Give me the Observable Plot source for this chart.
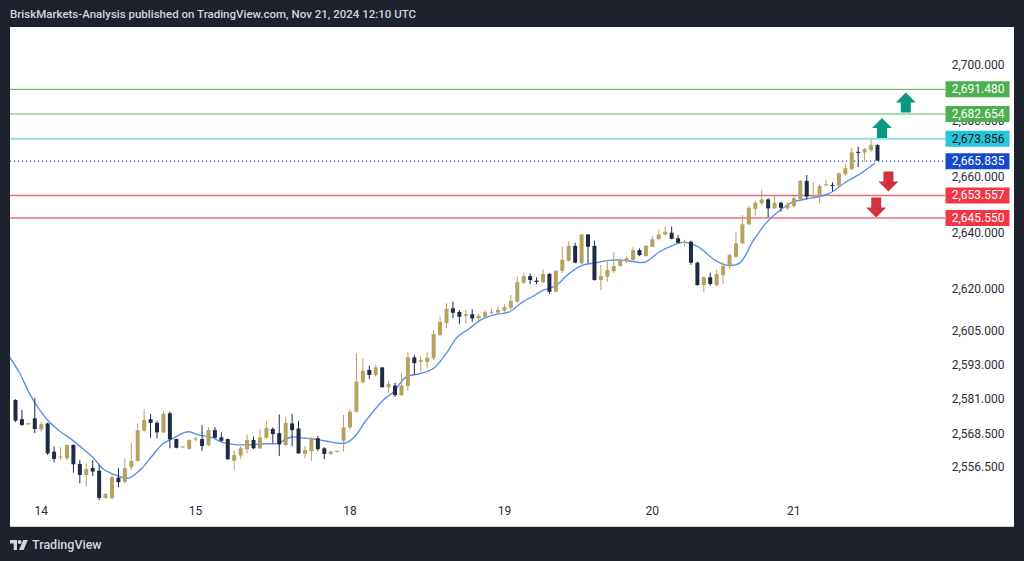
<!DOCTYPE html>
<html><head><meta charset="utf-8">
<script src="https://cdn.jsdelivr.net/npm/d3@7"></script>
<script src="https://cdn.jsdelivr.net/npm/@observablehq/plot@0.6"></script>
<style>
html,body{margin:0;padding:0;background:#1e222d;width:1024px;height:561px;overflow:hidden;font-family:Roboto,"Open Sans",sans-serif}
#hdr{position:absolute;left:10px;top:7px;color:#d1d4dc;font-size:11.5px;font-weight:500;white-space:nowrap}
#chart{position:absolute;left:10px;top:27px;width:1004px;height:499px;background:#fff;border-bottom:1px solid #c9ccd3}
#ftr{position:absolute;left:10px;top:537px;color:#d1d4dc;font-size:12.5px;font-weight:500;display:flex;align-items:center;gap:4px}
</style></head><body>
<div id="hdr">BriskMarkets-Analysis published on TradingView.com, Nov 21, 2024 12:10 UTC</div>
<div id="chart"></div>
<div id="ftr"><svg width="18" height="12" viewBox="0 0 18 12"><path d="M0 1h7v10h-3.3v-6.6h-3.7z" fill="#d1d4dc"/><circle cx="9.6" cy="3" r="2" fill="#d1d4dc"/><path d="M13.2 1h4.6l-4.2 10h-4.6z" fill="#d1d4dc"/></svg><span>TradingView</span></div>
<script>
// Hourly candles, index 0..134
const opens = [2580.4,2573.5,2571.7,2573.8,2569.9,2572.0,2561.9,2559.8,2559.5,2564.3,2557.5,2553.6,2556.1,2555.1,2545.4,2545.3,2552.6,2551.2,2556.3,2558.6,2569.4,2573.5,2572.2,2568.8,2575.6,2566.4,2563.4,2562.9,2566.2,2566.4,2564.2,2569.6,2567.0,2566.4,2558.7,2560.5,2562.8,2566.1,2563.1,2566.9,2570.0,2568.5,2564.3,2572.0,2570.2,2561.1,2562.1,2566.7,2563.1,2561.1,2561.8,2565.8,2570.6,2576.2,2586.7,2591.1,2589.3,2592.0,2584.9,2585.5,2582.1,2585.4,2595.6,2594.0,2593.9,2595.3,2603.6,2607.8,2613.1,2611.8,2610.4,2611.0,2609.5,2610.1,2611.5,2611.6,2612.3,2613.3,2615.5,2622.3,2624.6,2623.0,2622.4,2625.4,2619.0,2626.5,2630.1,2635.4,2629.2,2639.5,2635.4,2623.2,2624.4,2626.4,2628.2,2629.8,2630.4,2633.9,2631.8,2635.1,2637.9,2639.5,2640.1,2638.1,2636.4,2636.9,2629.4,2621.4,2624.2,2621.4,2625.0,2628.3,2631.5,2636.3,2643.1,2648.6,2650.6,2652.0,2648.8,2650.8,2648.8,2649.6,2652.1,2658.6,2653.0,2653.3,2657.0,2657.2,2656.9,2661.0,2662.8,2669.0,2668.8,2669.6,2671.4];
const highs = [2580.6,2576.8,2572.1,2581.0,2572.6,2572.3,2563.7,2563.5,2564.6,2564.5,2558.9,2557.7,2558.9,2557.1,2547.1,2553.6,2556.0,2559.5,2565.1,2572.0,2577.0,2575.4,2572.9,2576.4,2576.2,2566.6,2563.8,2566.4,2567.3,2571.4,2570.6,2570.6,2568.8,2566.6,2562.5,2563.9,2568.1,2567.3,2569.9,2572.9,2570.6,2575.2,2574.4,2575.4,2572.9,2563.9,2567.0,2567.5,2563.5,2562.3,2562.2,2575.0,2577.0,2597.0,2595.2,2592.6,2592.9,2592.1,2587.3,2586.5,2589.9,2597.4,2596.4,2596.1,2597.3,2605.4,2610.1,2614.9,2615.5,2612.5,2612.5,2612.8,2611.3,2612.5,2612.9,2613.8,2614.6,2617.9,2624.4,2625.8,2625.6,2624.1,2627.0,2625.6,2626.8,2635.1,2636.9,2636.5,2639.6,2639.6,2637.3,2628.6,2630.4,2633.1,2631.0,2631.8,2634.9,2634.5,2635.7,2638.9,2641.3,2642.3,2642.3,2639.3,2637.5,2637.3,2629.8,2624.6,2625.8,2626.8,2629.5,2632.5,2640.5,2646.4,2649.8,2651.5,2655.4,2652.4,2653.3,2651.2,2651.0,2653.3,2658.9,2660.7,2658.3,2657.4,2658.9,2658.1,2661.7,2664.6,2670.5,2670.8,2670.3,2673.6,2671.7];
const lows = [2572.5,2571.2,2571.4,2568.5,2569.0,2560.7,2558.0,2558.9,2558.9,2554.4,2550.6,2549.4,2553.2,2544.6,2545.0,2544.9,2549.2,2550.6,2555.4,2558.3,2569.0,2566.9,2566.7,2568.5,2563.1,2563.1,2563.2,2562.6,2565.5,2562.2,2563.9,2566.7,2565.5,2559.0,2555.4,2559.2,2561.3,2562.8,2562.8,2566.4,2564.9,2560.4,2563.9,2563.9,2561.2,2559.5,2558.7,2562.2,2559.2,2560.7,2561.6,2561.9,2569.9,2575.8,2586.3,2587.8,2588.7,2584.8,2582.8,2581.5,2581.8,2583.7,2589.3,2590.5,2591.7,2594.6,2603.0,2606.0,2609.5,2607.5,2607.7,2608.3,2608.9,2609.8,2611.0,2611.0,2611.0,2612.8,2615.1,2621.7,2621.7,2621.7,2622.0,2618.2,2618.9,2625.8,2629.8,2629.2,2628.8,2629.2,2623.0,2619.6,2622.6,2625.6,2627.9,2629.3,2630.1,2631.8,2631.5,2634.9,2637.3,2638.9,2637.8,2636.3,2635.1,2628.6,2621.2,2619.0,2621.2,2620.8,2621.7,2627.4,2631.2,2636.0,2642.9,2646.2,2649.8,2645.6,2648.6,2647.6,2648.2,2649.0,2651.8,2652.1,2652.6,2650.6,2656.8,2654.8,2656.5,2660.5,2662.5,2663.5,2665.5,2669.0,2665.8];
const closes = [2573.0,2571.4,2572.1,2570.0,2571.7,2561.3,2559.3,2560.2,2564.3,2557.4,2553.6,2555.7,2554.8,2545.4,2546.8,2552.8,2551.0,2556.0,2558.6,2569.6,2573.2,2572.2,2568.8,2575.4,2566.3,2563.3,2563.8,2566.1,2566.6,2563.9,2569.6,2566.9,2565.8,2559.2,2560.7,2563.1,2566.1,2563.1,2566.9,2570.3,2568.2,2564.5,2572.2,2569.6,2561.3,2562.5,2566.9,2562.8,2561.1,2561.9,2562.2,2570.6,2576.2,2586.9,2590.8,2589.3,2592.0,2584.9,2586.1,2582.1,2585.5,2595.6,2593.5,2594.6,2595.5,2603.9,2608.3,2612.9,2611.5,2610.1,2611.0,2609.5,2610.4,2611.7,2611.9,2612.5,2613.5,2615.7,2622.4,2624.6,2623.2,2622.5,2625.4,2619.0,2626.5,2630.4,2635.4,2629.4,2639.5,2635.1,2623.2,2624.6,2626.8,2628.2,2630.4,2631.0,2633.9,2632.1,2635.4,2637.8,2639.5,2640.5,2637.9,2636.5,2636.8,2629.4,2621.4,2624.2,2621.8,2625.3,2628.2,2632.1,2636.3,2643.1,2649.0,2650.8,2652.0,2648.8,2650.8,2649.0,2650.2,2652.4,2658.6,2653.0,2653.4,2656.8,2657.4,2656.8,2661.3,2663.1,2668.8,2668.6,2670.0,2671.4,2665.835];

// Moving average, read at sample positions (candle index)
const maIndex = [-0.9,0.7,2.2,3.8,5.3,6.9,8.9,10.5,12.0,13.6,15.7,17.5,19.3,21.3,22.9,24.4,26.0,27.0,28.4,30.5,32.0,34.1,36.7,38.8,40.8,42.9,45.0,47.0,49.1,51.2,52.7,54.3,57.1,58.7,60.7,62.8,64.9,66.9,68.7,70.5,72.6,74.7,76.7,78.8,80.4,81.9,84.0,86.0,88.1,90.2,92.2,94.8,96.4,97.9,100.0,102.1,104.1,106.2,108.8,110.7,112.6,114.6,116.7,118.8,120.8,123.9,126.4,129.1,131.3,133.5];
const maValue = [2595.8,2589.9,2582.7,2576.8,2572.6,2569.4,2566.1,2563.1,2560.1,2556.0,2553.6,2552.6,2555.4,2560.7,2564.9,2566.7,2568.7,2569.2,2568.1,2567.2,2565.5,2564.6,2564.6,2564.9,2565.1,2567.3,2566.9,2566.4,2565.5,2565.1,2567.3,2572.6,2580.4,2583.3,2588.7,2589.9,2591.7,2597.0,2603.0,2606.0,2609.5,2611.1,2611.9,2615.5,2617.5,2619.6,2621.4,2625.6,2628.6,2629.5,2630.4,2630.4,2629.8,2629.8,2633.3,2635.7,2636.9,2635.1,2630.4,2628.6,2629.5,2637.1,2643.8,2648.2,2651.2,2652.7,2654.2,2658.4,2661.3,2665.0];

// Horizontal levels
const levelValues = [2691.480, 2682.654, 2673.856, 2665.835, 2653.557, 2645.550];
const levelLineColors = ["#4caf50", "#8fd18f", "#8ee0ea", "#2946c9", "#f06a74", "#e0303c"];
const levelLineWidths = [1, 1.5, 2, 1.2, 1.5, 1];
const levelDash = ["none", "none", "none", "1.2,2.8", "none", "none"];
const labelBg = ["#4caf50", "#4caf50", "#26c6da", "#1848cc", "#f23645", "#f23645"];
const labelFg = ["#ffffff", "#ffffff", "#131722", "#ffffff", "#ffffff", "#ffffff"];

// Price axis ticks (TradingView scale)
const yTicks = [2700, 2680, 2660, 2640, 2620, 2605, 2593, 2581, 2568.5, 2556.5];
// Day labels
const dayIndex = [4, 28, 52, 76, 99, 121];
const dayLabels = ["14", "15", "18", "19", "20", "21"];

// Arrow annotations
const upArrowIndex = [138.4, 134.7];
const upArrowPrice = [2686.8, 2677.7];
const downArrowIndex = [135.7, 133.8];
const downArrowPrice = [2658.6, 2649.3];

const candles = opens.map((o, i) => ({i, o, h: highs[i], l: lows[i], c: closes[i]}));
const ma = maIndex.map((i, k) => ({i, v: maValue[k]}));
const levels = levelValues.map((v, k) => ({v, lc: levelLineColors[k], lw: levelLineWidths[k], dash: levelDash[k], bg: labelBg[k], fg: labelFg[k]}));
const ups = upArrowIndex.map((i, k) => ({i, v: upArrowPrice[k]}));
const downs = downArrowIndex.map((i, k) => ({i, v: downArrowPrice[k]}));

const GOLD = "#b3a35e", NAVY = "#1f2a45";
const col = d => d.c >= d.o ? GOLD : NAVY;
const fmt = d3.format(",.3f");

const boxSym = {draw(ctx) { ctx.moveTo(-32, -8); ctx.lineTo(32, -8); ctx.lineTo(32, 8); ctx.lineTo(-32, 8); ctx.closePath(); }};
const upSym = {draw(ctx) { ctx.moveTo(0, -10); ctx.lineTo(10, 0); ctx.lineTo(5, 0); ctx.lineTo(5, 10); ctx.lineTo(-5, 10); ctx.lineTo(-5, 0); ctx.lineTo(-10, 0); ctx.closePath(); }};
const downSym = {draw(ctx) { ctx.moveTo(0, 10); ctx.lineTo(10, 0); ctx.lineTo(5, 0); ctx.lineTo(5, -10); ctx.lineTo(-5, -10); ctx.lineTo(-5, 0); ctx.lineTo(-10, 0); ctx.closePath(); }};

const marks = [];
levels.forEach(L => {
  marks.push(Plot.ruleY([L.v], {stroke: L.lc, strokeWidth: L.lw, strokeDasharray: L.dash}));
});
marks.push(
  Plot.line(ma, {x: "i", y: "v", stroke: "#5d8ff0", strokeWidth: 1.4, curve: "catmull-rom", clip: true}),
  Plot.ruleX(candles, {x: "i", y1: "l", y2: "h", stroke: col, strokeWidth: 1}),
  Plot.ruleX(candles, {x: "i", y1: "o", y2: "c", stroke: col, strokeWidth: 4}),
  Plot.dot(ups, {x: "i", y: "v", symbol: upSym, r: 5, fill: "#089981", stroke: null}),
  Plot.dot(downs, {x: "i", y: "v", symbol: downSym, r: 5, fill: "#d3313d", stroke: null}),
  Plot.text(yTicks, {y: d => d, text: d => fmt(d), frameAnchor: "right", textAnchor: "end", dx: 59, fill: "#2a2e39", fontSize: 12}),
  Plot.dot(levels, {y: "v", frameAnchor: "right", dx: 32, symbol: boxSym, r: 5, fill: "bg", stroke: null}),
  Plot.text(levels, {y: "v", text: d => fmt(d.v), frameAnchor: "right", textAnchor: "end", dx: 59, fill: "fg", fontSize: 12}),
  Plot.text(dayIndex, {x: d => d, text: (d, k) => dayLabels[k], frameAnchor: "bottom", dy: 13, fill: "#2a2e39", fontSize: 12})
);

const chart = Plot.plot({
  width: 1004, height: 499,
  marginLeft: 0, marginRight: 69, marginTop: 0, marginBottom: 25,
  style: {background: "#ffffff", fontFamily: "Roboto, 'Open Sans', sans-serif", overflow: "visible"},
  x: {type: "linear", domain: [0, 134], range: [5, 867], axis: null},
  y: {type: "linear", domain: [2556.5, 2700], range: [439.8, 38], axis: null},
  marks
});
document.getElementById("chart").appendChild(chart);
</script>
</body></html>
